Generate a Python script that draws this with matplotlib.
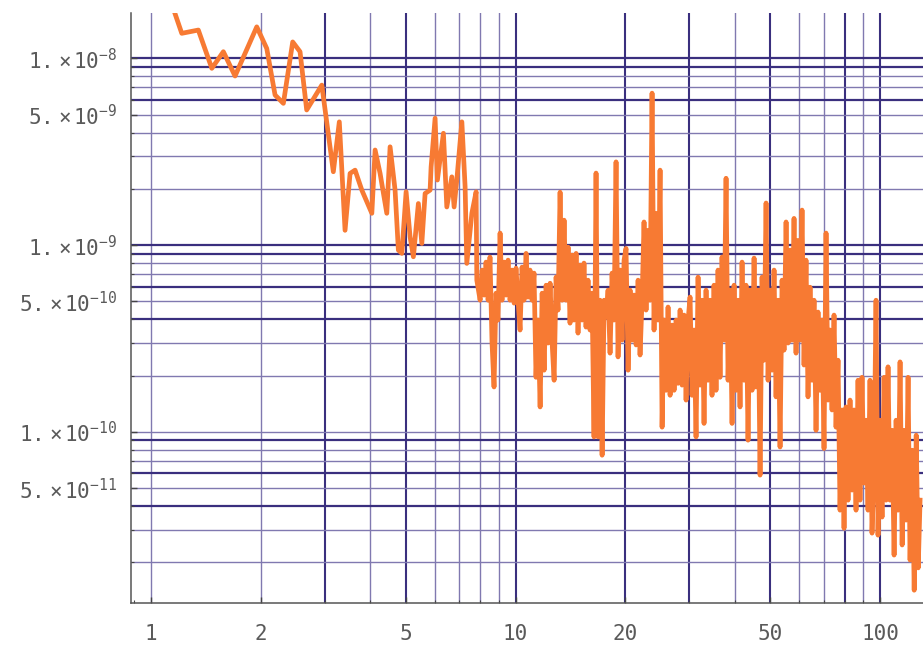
import matplotlib
matplotlib.use("Agg")
import matplotlib.pyplot as plt
import numpy as np
from matplotlib.ticker import FixedLocator, NullFormatter

# ---- data: frequency and power (power in units of 1e-10) ----
freq = [
    1.142, 1.214, 1.348, 1.468, 1.579, 1.700, 1.950, 2.077, 2.189, 2.307,
    2.447, 2.563, 2.673, 2.941, 3.163, 3.285, 3.406, 3.516, 3.629, 3.787,
    4.034, 4.118, 4.250, 4.434, 4.527, 4.672, 4.770, 4.877, 5.009, 5.137,
    5.245, 5.413, 5.532, 5.648, 5.829, 5.866, 6.016, 6.104, 6.341, 6.478,
    6.687, 6.784, 6.900, 7.124, 7.272, 7.350, 7.589, 7.796, 7.83,
    7.995, 8.097, 8.20, 8.30, 8.41, 8.51, 8.62, 8.73, 8.84, 8.95,
    9.07, 9.18, 9.30, 9.42, 9.54, 9.66, 9.78, 9.91, 10.03, 10.16,
    10.29, 10.42, 10.55, 10.69, 10.82, 10.96, 11.10, 11.24, 11.38, 11.53,
    11.68, 11.83, 11.98, 12.13, 12.28, 12.44, 12.60, 12.76, 12.92, 13.08,
    13.25, 13.42, 13.59, 13.76, 13.94, 14.11, 14.29, 14.47, 14.66, 14.84,
    15.03, 15.22, 15.41, 15.61, 15.81, 16.01, 16.21, 16.42, 16.63, 16.84,
    17.06, 17.28, 17.50, 17.72, 17.94, 18.17, 18.40, 18.63, 18.87, 19.11,
    19.36, 19.60, 19.85, 20.10, 20.36,
    20.62, 20.88, 21.15, 21.42, 21.69, 21.96, 22.24, 22.52, 22.81, 23.10,
    23.39, 23.69, 23.99, 24.29, 24.60, 24.92, 25.24, 25.56, 25.88, 26.21,
    26.55, 26.89, 27.23, 27.58, 27.93, 28.28, 28.64, 29.00, 29.37, 29.75,
    30.12, 30.50, 30.89, 31.28, 31.68, 32.08, 32.49, 32.90, 33.32, 33.74,
    34.17, 34.60, 35.04, 35.49, 35.94, 36.40, 36.86, 37.33, 37.81, 38.29,
    38.78, 39.27, 39.77, 40.28, 40.79, 41.30, 41.83, 42.36, 42.90, 43.44,
    44.00, 44.56, 45.13, 45.70, 46.28, 46.87, 47.47, 48.07, 48.68, 49.30,
    49.92, 50.56, 51.20, 51.85, 52.51, 53.18, 53.86, 54.54, 55.24, 55.94,
    56.64, 57.36, 58.09, 58.83, 59.58, 60.33, 61.10, 61.88, 62.66, 63.46,
    64.27, 65.09, 65.92, 66.75, 67.60, 68.46, 69.33, 70.21, 71.11, 72.01,
    72.92, 73.85, 74.79, 75.74, 76.70, 77.68, 78.67, 79.67, 80.68, 81.71,
    82.74, 83.79, 84.86, 85.94, 87.03, 88.13, 89.25, 90.39, 91.54, 92.70,
    93.88, 95.07, 96.28, 97.51, 98.75, 100.0, 101.3, 102.6, 103.9, 105.2,
    106.5, 107.9, 109.3, 110.7, 112.1, 113.5, 115.0, 116.4, 117.9, 119.4,
    120.9, 122.5, 124.1, 125.7, 127.3, 128.8]
power_e10 = [
    193, 136.1, 141.7, 88.4, 108.5, 80.4, 147.4, 112.9, 63.6, 57.4,
    122.4, 108.5, 52.9, 71.9, 24.7, 45.7, 12.0, 24.2, 25.2, 19.7,
    14.8, 32.3, 24.2, 14.8, 33.6, 19.7, 9.40, 9.03, 19.3, 11.05,
    8.66, 16.7, 10.2, 18.9, 19.7, 26.2, 47.8, 22.3, 39.7, 16.0,
    23.2, 16.0, 22.3, 45.7, 20.5, 7.98, 14.8, 19.3, 6.49,
    5.07, 7.35, 5.40, 8.11, 5.07, 8.63, 2.99, 1.74, 5.53, 3.97,
    11.6, 5.07, 8.11, 5.40, 8.31, 5.07, 7.35, 4.89, 7.53, 5.07,
    3.51, 7.62, 5.07, 9.03, 5.27, 7.35, 5.07, 7.08, 1.96, 3.97,
    1.36, 5.53, 2.14, 6.10, 2.99, 6.25, 2.99, 1.89, 6.74, 4.49,
    19.2, 5.07, 13.6, 5.07, 9.75, 3.82, 8.84, 3.97, 9.03, 3.38,
    7.81, 3.97, 8.01, 3.64, 6.49, 3.51, 5.53, 0.94, 24.3, 0.94,
    5.07, 0.750, 5.07, 4.12, 5.74, 2.64, 7.08, 3.97, 27.9, 2.52,
    7.35, 3.10, 8.31, 9.6, 2.14,
    5.74, 3.10, 5.40, 2.92, 6.49, 2.58, 5.07, 13.3, 4.49, 12.0,
    5.07, 65.1, 3.51, 14.8, 3.97, 25.2, 1.06, 3.97, 1.67, 4.66,
    1.57, 3.73, 1.67, 3.97, 1.82, 4.49, 1.78, 4.22, 1.48, 3.97,
    5.27, 1.57, 3.51, 0.94, 6.74, 1.78, 5.07, 1.11, 5.74, 1.89,
    5.07, 1.57, 6.10, 1.67, 7.35, 1.96, 8.63, 3.10, 22.8, 1.89,
    5.74, 1.11, 6.10, 1.67, 5.07, 1.36, 8.11, 1.89, 6.10, 0.903,
    5.74, 1.67, 8.52, 1.74, 5.74, 0.587, 6.74, 2.42, 16.8, 1.89,
    5.74, 2.14, 7.35, 1.54, 5.07, 0.83, 6.49, 2.74, 13.3, 2.99,
    9.40, 3.10, 13.9, 2.64, 10.6, 3.10, 15.4, 2.28, 8.31, 1.54,
    5.95, 1.89, 5.07, 1.02, 4.38, 1.67, 3.97, 0.815, 11.6, 1.48,
    3.51, 1.31, 4.22, 1.06, 2.42, 0.381, 1.31, 0.305, 1.36, 0.431,
    1.48, 0.488, 1.31, 0.381, 1.89, 0.431, 1.96, 0.532, 1.155, 0.381,
    1.89, 0.287, 0.624, 5.07, 0.280, 1.155, 0.350, 1.96, 0.431, 2.23,
    0.431, 1.02, 0.219, 1.155, 0.381, 2.37, 0.248, 1.02, 0.337, 1.96,
    0.206, 0.798, 0.142, 0.96, 0.187, 0.431]

ytick_vals = [1e-8, 5e-9, 1e-9, 5e-10, 1e-10, 5e-11]
ytick_labels = [r"$1.\times10^{-8}$", r"$5.\times10^{-9}$", r"$1.\times10^{-9}$",
                r"$5.\times10^{-10}$", r"$1.\times10^{-10}$", r"$5.\times10^{-11}$"]
xtick_vals = [1, 2, 5, 10, 20, 50, 100]
xtick_labels = ["1", "2", "5", "10", "20", "50", "100"]

plt.rcParams['mathtext.fontset'] = 'custom'
plt.rcParams['mathtext.rm'] = 'DejaVu Sans Mono'
plt.rcParams['mathtext.it'] = 'DejaVu Sans Mono'
plt.rcParams['font.family'] = ['DejaVu Sans Mono', 'DejaVu Sans']

fig = plt.figure(figsize=(9.23, 6.45), dpi=100)
ax = fig.add_axes([131/923, 42/645, 792/923, 590.3/645])
ax.set_xscale('log')
ax.set_yscale('log')
ax.set_xlim(0.881, 131.2)
ax.set_ylim(1.213e-11, 1.755e-8)

grid_dark = '#3a2f7e'
grid_light = '#8079b0'
xgrid = [1, 2, 3, 4, 5, 6, 7, 8, 9, 10, 20, 30, 40, 50, 60, 70, 80, 90, 100]
xthick = {3, 5, 10, 20, 30, 50, 80, 100}
for g in xgrid:
    if g in xthick:
        ax.axvline(g, color=grid_dark, lw=1.5, zorder=1)
    else:
        ax.axvline(g, color=grid_light, lw=1.0, zorder=1)
for e in [-11, -10, -9]:
    for m in [2, 3, 4, 5, 6, 7, 8, 9, 10]:
        v = m * 10.0 ** e
        thick = m in {10, 9, 6} or (m == 4 and e != -9)
        if m == 10 and e == -11:
            thick = False
        if thick:
            ax.axhline(v, color=grid_dark, lw=1.6, zorder=1)
        else:
            ax.axhline(v, color=grid_light, lw=1.0, zorder=1)

power = np.array(power_e10) * 1e-10
ax.plot(freq, power, color='#f77a33', lw=3.4, zorder=3, solid_joinstyle='round')

for s in ['top', 'right']:
    ax.spines[s].set_visible(False)
for s in ['left', 'bottom']:
    ax.spines[s].set_color('#555555')
    ax.spines[s].set_linewidth(1.1)
    ax.spines[s].set_zorder(4)

ax.xaxis.set_major_locator(FixedLocator(xtick_vals))
ax.set_xticklabels(xtick_labels)
ax.yaxis.set_major_locator(FixedLocator(ytick_vals))
ax.set_yticklabels(ytick_labels)
ax.xaxis.set_minor_formatter(NullFormatter())
ax.yaxis.set_minor_formatter(NullFormatter())
ax.tick_params(axis='both', which='major', direction='in', length=4, width=1,
               color='#444444', labelsize=15, labelcolor='#5a5a5a')
ax.tick_params(axis='x', which='major', pad=15)
ax.tick_params(axis='y', which='major', pad=10)
ax.tick_params(axis='both', which='minor', direction='in', length=2, width=0.8,
               color='#444444')

fig.savefig('out.png', dpi=100)
